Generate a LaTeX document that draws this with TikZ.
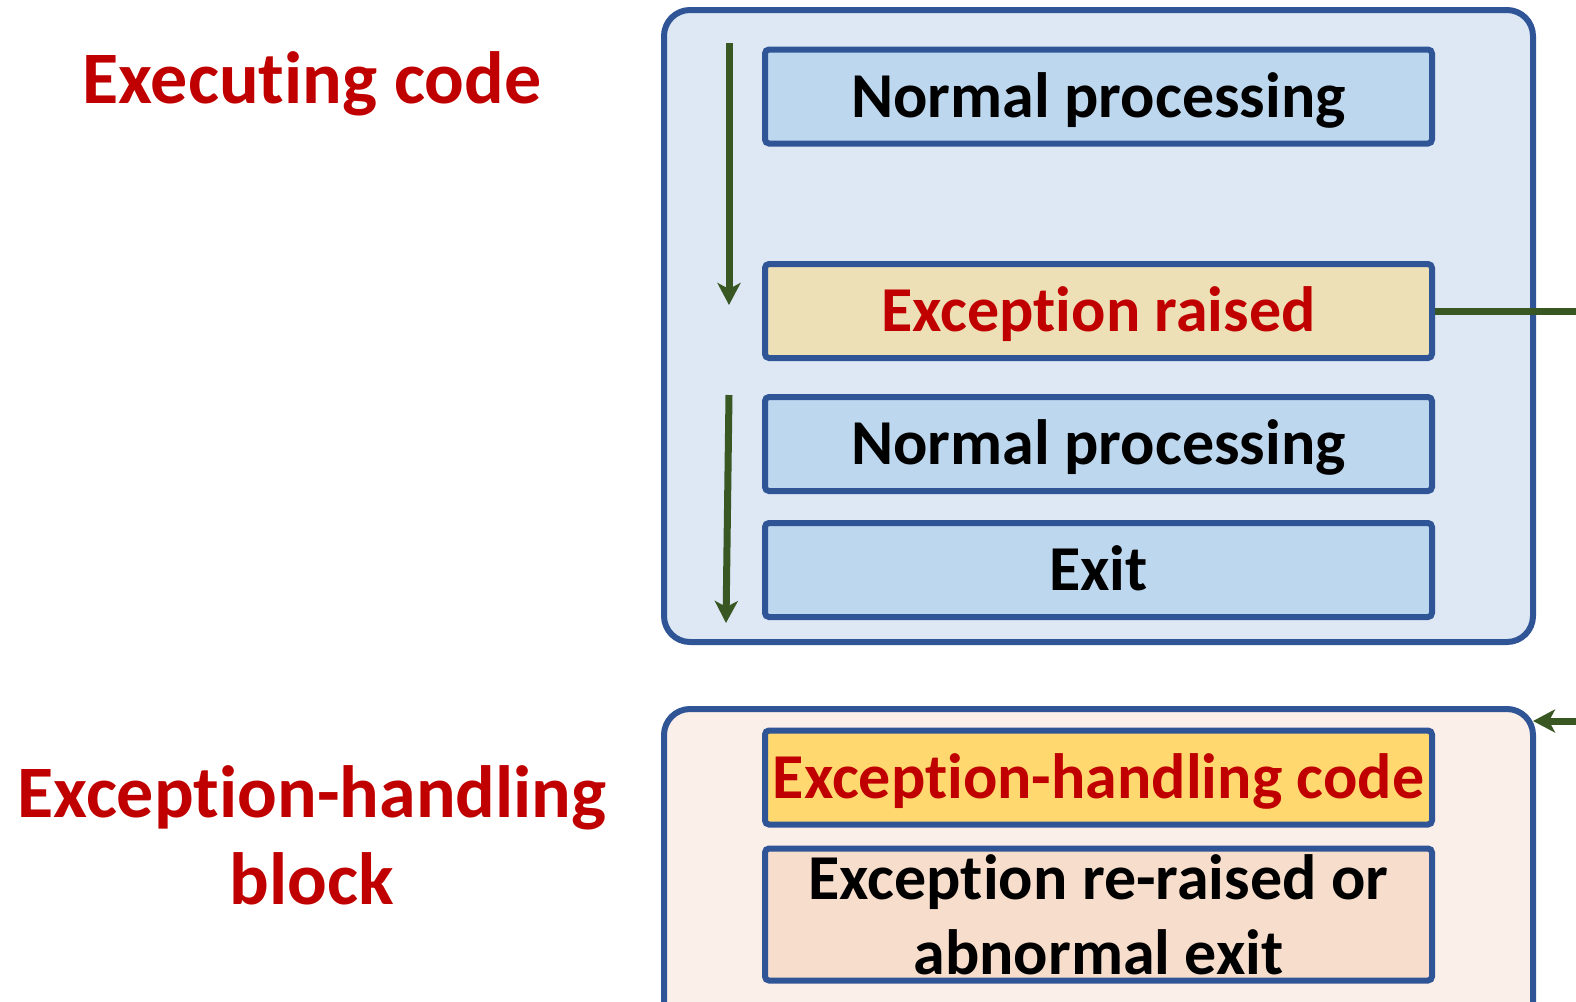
\documentclass[tikz,border=0pt]{standalone}
\usepackage{fontspec}
\setmainfont{Carlito}[Ligatures=NoCommon]
\usetikzlibrary{arrows.meta,positioning}
\definecolor{frameblue}{HTML}{2F5597}
\definecolor{execfill}{HTML}{DEE8F5}
\definecolor{stepfill}{HTML}{BDD7EE}
\definecolor{raisefill}{HTML}{EDDFB6}
\definecolor{handlefill}{HTML}{FBEFEA}
\definecolor{codefill}{HTML}{FFD96F}
\definecolor{exitfill}{HTML}{F7DDCC}
\definecolor{flowgreen}{HTML}{385723}
\definecolor{alertred}{HTML}{C00000}
\begin{document}
\begin{tikzpicture}[x=0.5pt,y=-0.5pt,
  frame/.style={draw=frameblue,line width=3pt,rounded corners=13pt},
  box/.style={draw=frameblue,line width=3pt,rounded corners=2pt,align=center,
              minimum width=333.5pt,minimum height=47pt,inner sep=0pt,
              text height=20.8pt,text depth=0pt,
              font=\fontsize{32}{37.5}\selectfont\bfseries},
  label/.style={align=center,text=alertred,
                font=\fontsize{37}{43.5}\selectfont\bfseries},
  link/.style={-{Stealth[length=11pt,width=11.5pt,inset=3pt]},
               line width=3.5pt,draw=flowgreen}
]
\clip (0,0) rectangle (1576,1002);
% outer frames
\node[frame,fill=execfill,minimum width=434.5pt,minimum height=316pt] (execbox) at (1098.5,326) {};
\node[frame,fill=handlefill,minimum width=434.5pt,minimum height=165pt] (handlebox) at (1098.5,874) {};
% side labels
\node[label] (execlabel) at (312,84) {Executing code};
\node[label] (handlelabel) at (312,835) {Exception-handling\\block};
% steps
\node[box,fill=stepfill] (normA) at (1098.5,96.5) {Normal processing};
\node[box,fill=raisefill,text=alertred] (raised) at (1098.5,311) {Exception raised};
\node[box,fill=stepfill] (normB) at (1098.5,444) {Normal processing};
\node[box,fill=stepfill] (exit) at (1098.5,570) {Exit};
\node[box,fill=codefill,text=alertred] (handler) at (1098.5,777.5) {Exception-handling code};
\node[box,fill=exitfill,minimum height=66pt,text height={},text depth={}] (reraise) at (1098.5,914.5) {Exception re-raised or\\abnormal exit};
% flow arrows
\coordinate (flowAtop) at (729,43);
\coordinate (flowAend) at (729,305);
\coordinate (flowBtop) at (729,395);
\coordinate (flowBend) at (726,623);
\coordinate (offright) at (1640,311);
\coordinate (handlein) at (1533,721);
\draw[link] (flowAtop)--(flowAend);
\draw[link] (flowBtop)--(flowBend);
\draw[link] (raised.east)--(offright)|-(handlein);
\end{tikzpicture}
\end{document}
